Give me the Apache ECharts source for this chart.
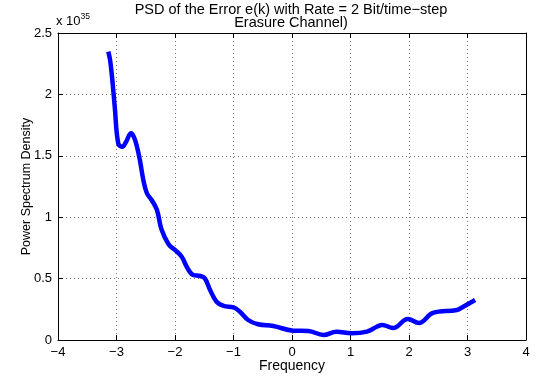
<!DOCTYPE html>
<html><head><meta charset="utf-8">
<script src="https://cdn.jsdelivr.net/npm/echarts@6/dist/echarts.min.js"></script>
<style>html,body{margin:0;padding:0;background:#fff}#c{width:538px;height:379px}</style>
</head><body><div id="c"></div>
<script>
// Data (power in units of 1e35)
var freq = [-3.14,-3.11,-3.08,-3.03,-2.97,-2.90,-2.84,-2.75,-2.70,-2.65,-2.60,-2.54,-2.48,-2.40,-2.31,-2.23,-2.11,-2.00,-1.885,-1.80,-1.69,-1.57,-1.49,-1.40,-1.29,-1.17,-1.00,-0.89,-0.75,-0.58,-0.32,0.02,0.28,0.54,0.76,1.02,1.28,1.45,1.54,1.73,1.98,2.17,2.41,2.82,2.92,3.13];
var psd  = [2.348,2.28,2.16,1.90,1.60,1.574,1.61,1.683,1.65,1.574,1.465,1.30,1.195,1.14,1.06,0.90,0.78,0.733,0.678,0.597,0.529,0.521,0.502,0.407,0.312,0.277,0.266,0.230,0.163,0.128,0.114,0.076,0.073,0.041,0.068,0.055,0.068,0.108,0.122,0.098,0.171,0.138,0.22,0.244,0.269,0.326];
var xTicks = [-4,-3,-2,-1,0,1,2,3,4];
var yTicks = [0,0.5,1,1.5,2,2.5];
var titleLines = ['PSD of the Error e(k) with Rate = 2 Bit/time\u2212step','Erasure Channel)'];

var font = 'Liberation Sans, Arial, Helvetica, sans-serif';
function fmt(v){ return String(v).replace('-', '\u2212'); }
var pts = freq.map(function(f,i){ return [f, psd[i]]; });

var grid = {left:58, right:12, top:33, bottom:39, containLabel:false};
var gridLine = {show:true, lineStyle:{color:'#777', type:[1,3], width:1}};
var chart = echarts.init(document.getElementById('c'), null, {renderer:'canvas'});
chart.setOption({
  animation:false,
  backgroundColor:'#fff',
  title:{text:titleLines.join('\n'), left:291, textAlign:'center', top:3, padding:0,
    textStyle:{fontFamily:font, fontSize:14.5, fontWeight:'normal', color:'#000', lineHeight:13.5}},
  grid:grid,
  xAxis:[{type:'value', min:xTicks[0], max:xTicks[xTicks.length-1], interval:1, position:'bottom',
     name:'Frequency', nameLocation:'middle', nameGap:19, nameMoveOverlap:false,
     nameTextStyle:{fontFamily:font, fontSize:14, color:'#000'},
     axisLine:{show:true, onZero:false, lineStyle:{color:'#000', width:1}},
     axisTick:{show:true, inside:true, length:5, lineStyle:{color:'#000'}},
     axisLabel:{fontFamily:font, fontSize:13, color:'#000', margin:6, formatter:fmt},
     splitLine:gridLine},
    {type:'value', min:xTicks[0], max:xTicks[xTicks.length-1], interval:1, position:'top',
     axisLine:{show:true, onZero:false, lineStyle:{color:'#000', width:1}},
     axisTick:{show:true, inside:true, length:5, lineStyle:{color:'#000'}},
     axisLabel:{show:false}, splitLine:{show:false}}],
  yAxis:[{type:'value', min:yTicks[0], max:yTicks[yTicks.length-1], interval:0.5, position:'left',
     name:'Power Spectrum Density', nameLocation:'middle', nameGap:25, nameRotate:90, nameMoveOverlap:false,
     nameTextStyle:{fontFamily:font, fontSize:12.5, color:'#000'},
     axisLine:{show:true, onZero:false, lineStyle:{color:'#000', width:1}},
     axisTick:{show:true, inside:true, length:5, lineStyle:{color:'#000'}},
     axisLabel:{fontFamily:font, fontSize:13, color:'#000', margin:6, formatter:fmt},
     splitLine:gridLine},
    {type:'value', min:yTicks[0], max:yTicks[yTicks.length-1], interval:0.5, position:'right',
     axisLine:{show:true, onZero:false, lineStyle:{color:'#000', width:1}},
     axisTick:{show:true, inside:true, length:5, lineStyle:{color:'#000'}},
     axisLabel:{show:false}, splitLine:{show:false}}],
  graphic:[{type:'text', left:56, top:12,
    style:{text:'{a|x 10}{s|35}', fontFamily:font, fill:'#000',
      rich:{a:{fontSize:13, fontFamily:font, fill:'#000', verticalAlign:'bottom'},
            s:{fontSize:8.5, fontFamily:font, fill:'#000', verticalAlign:'top', padding:[0,0,7,0]}}}}],
  series:[{type:'line', data:pts, xAxisIndex:0, yAxisIndex:0, showSymbol:false, smooth:0.4,
    lineStyle:{color:'#0000ff', width:4.5}, itemStyle:{color:'#0000ff'}}]
});
</script></body></html>
